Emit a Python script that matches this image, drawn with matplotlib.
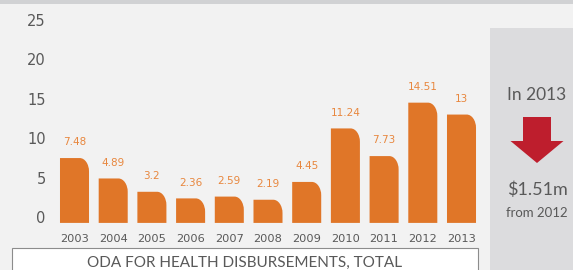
import matplotlib.pyplot as plt
import numpy as np
from matplotlib.patches import PathPatch, Rectangle, FancyArrow
from matplotlib.path import Path

years = ["2003", "2004", "2005", "2006", "2007", "2008", "2009", "2010", "2011", "2012", "2013"]
values = [7.48, 4.89, 3.2, 2.36, 2.59, 2.19, 4.45, 11.24, 7.73, 14.51, 13]
value_labels = ["7.48", "4.89", "3.2", "2.36", "2.59", "2.19", "4.45", "11.24", "7.73", "14.51", "13"]
y_ticks = [0, 5, 10, 15, 20, 25]
title = "ODA FOR HEALTH DISBURSEMENTS, TOTAL"
side_year = "In 2013"
side_change = "$1.51m"
side_from = "from 2012"

BG = "#f2f2f2"
PANEL = "#dcdcde"
BAR = "#e07628"
LABEL = "#e8873e"
TEXT = "#595959"
RED = "#be1e2d"
W, H = 573, 270


def rounded_bar(x, h, width, base, rx, ry):
    """Bar path with a rounded top-right corner (elliptical quarter arc)."""
    left, right = x - width / 2, x + width / 2
    top = h
    ry = min(ry, (top - base) * 0.8)
    k = 0.5523
    verts = [
        (left, base), (left, top), (right - rx, top),
        (right - rx + k * rx, top), (right, top - ry + k * ry), (right, top - ry),
        (right, base), (left, base),
    ]
    codes = [Path.MOVETO, Path.LINETO, Path.LINETO,
             Path.CURVE4, Path.CURVE4, Path.CURVE4,
             Path.LINETO, Path.CLOSEPOLY]
    return Path(verts, codes)


fig = plt.figure(figsize=(W / 100, H / 100), dpi=100)
fig.patch.set_facecolor(BG)

# top band and right summary panel
fig.patches.append(Rectangle((0, 1 - 4 / H), 1, 4 / H, transform=fig.transFigure,
                             facecolor="#d1d2d4", edgecolor="none"))
fig.patches.append(Rectangle((490 / W, 0), (W - 490) / W, (H - 28) / H,
                             transform=fig.transFigure, facecolor=PANEL, edgecolor="none"))

# axes placed so that pixel scale matches the reference
px_left, px_right, px_top, px_bottom = 50, 485, 12, 230
x0, pitch = 74.5, 38.7
y0, unit = 217, 7.88
ax = fig.add_axes([px_left / W, 1 - px_bottom / H, (px_right - px_left) / W, (px_bottom - px_top) / H])
ax.set_facecolor("none")
ax.set_xlim((px_left - x0) / pitch, (px_right - x0) / pitch)
ax.set_ylim((y0 - px_bottom) / unit, (y0 - px_top) / unit)
for s in ax.spines.values():
    s.set_visible(False)

xs = np.arange(len(years))
base = -0.75
for x, v, lab in zip(xs, values, value_labels):
    ax.add_patch(PathPatch(rounded_bar(x, v, 0.75, base, 0.24, 1.7),
                           facecolor=BAR, edgecolor="none"))
    ax.text(x, v + 2.0, lab, ha="center", va="center", fontsize=7.5, color=LABEL)

ax.set_yticks(y_ticks)
ax.set_yticklabels([str(t) for t in y_ticks])
ax.set_xticks(xs)
ax.set_xticklabels(years)
ax.tick_params(axis="y", length=0, pad=3, labelsize=10.5, labelcolor=TEXT)
ax.tick_params(axis="x", length=0, pad=3, labelsize=8.2, labelcolor=TEXT)

# title box
fig.patches.append(Rectangle((12 / W, -0.05), (478 - 12) / W, (H - 248) / H + 0.05,
                             transform=fig.transFigure, facecolor="white",
                             edgecolor="#8c8c8c", linewidth=0.8))
fig.text(245 / W, 1 - 263 / H, title, ha="center", va="center",
         fontsize=11, color=TEXT, family="Lato")

# summary panel text and arrow
cx = 537 / W
fig.text(cx, 1 - 95 / H, side_year, ha="center", va="center", fontsize=12.5,
         color=TEXT, family="Lato")
fig.patches.append(FancyArrow(cx, 1 - 117 / H, 0, -(163 - 117) / H,
                              width=28 / W, head_width=53 / W, head_length=22 / H,
                              length_includes_head=True, transform=fig.transFigure,
                              facecolor=RED, edgecolor="none"))
fig.text(cx, 1 - 190 / H, side_change, ha="center", va="center", fontsize=13,
         color=TEXT, family="Lato")
fig.text(cx, 1 - 213 / H, side_from, ha="center", va="center", fontsize=9.5,
         color=TEXT, family="Lato")

fig.savefig("out.png", dpi=100, facecolor=fig.get_facecolor())
